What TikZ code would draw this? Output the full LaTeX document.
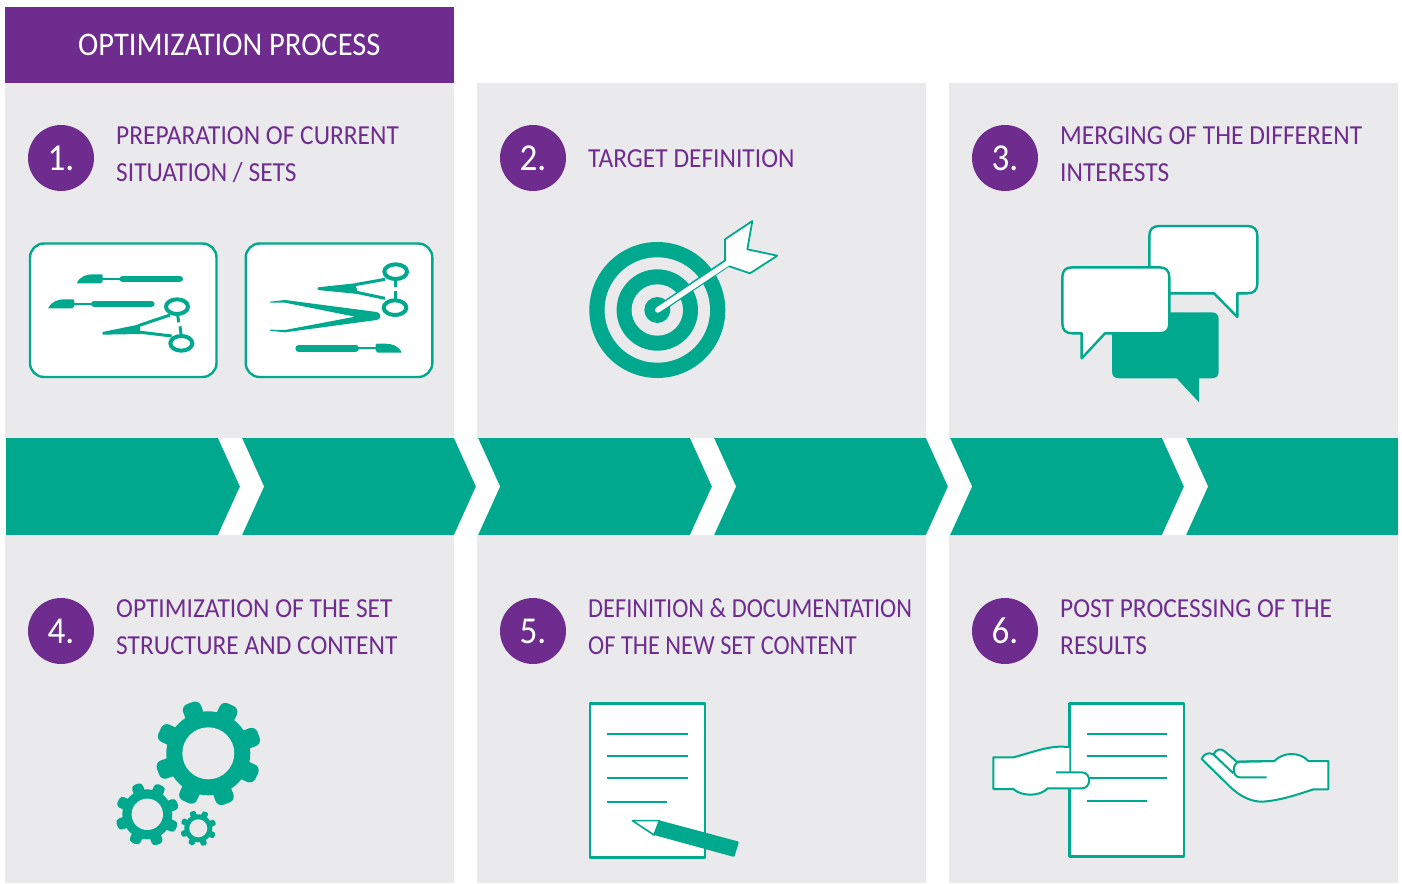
\documentclass[tikz,border=0pt]{standalone}
\usepackage{fontspec}
\setmainfont[FakeStretch=0.925,Ligatures=NoCommon]{Carlito}
\usetikzlibrary{calc}
\definecolor{teal1}{HTML}{00A88E}
\definecolor{purp}{HTML}{6F2C8F}
\definecolor{panel}{HTML}{EAEAEC}
\newcommand{\gearicon}[6]{%
 \begin{scope}[shift={(#1,#2)}]
  \fill[teal1] (0,0) circle (#3);
  \foreach \a in {20,65,...,335}{
   \begin{scope}[rotate=\a]
    \fill[teal1,rounded corners=#6*0.33pt] (#3*0.8,-#6*0.5) -- (#5,-#6*0.5) -- (#5,#6*0.5) -- (#3*0.8,#6*0.5) -- cycle;
   \end{scope}}
  \fill[panel] (0,0) circle (#4);
 \end{scope}}
\newcommand{\scalpelicon}{%
  \fill[teal1] (0,0) .. controls (3,-7) and (10,-9) .. (16,-9) -- (25,-9) -- (26,-8) -- (26,-2) -- (24,0) -- cycle;
  \draw[teal1,line width=2pt] (25,-4.5) -- (44,-4.5);
  \draw[teal1,line width=6.6pt,line cap=round] (46,-4.5) -- (103,-4.5);}
\tikzset{
 ttl/.style={anchor=base west,inner sep=0pt,text=purp,font=\fontsize{27.5}{30}\selectfont},
 numc/.style={circle,fill=purp,minimum size=66pt,inner sep=0pt,text=white,font=\fontsize{38}{40}\selectfont},
 docline/.style={draw=teal1,line width=1.8pt},
 iconline/.style={draw=teal1,line width=2.4pt,fill=white,line join=round},
 ringline/.style={teal1,line width=4pt},
 armline/.style={teal1,line width=3pt},
}
\begin{document}
\begin{tikzpicture}[x=1pt,y=-1pt]
\useasboundingbox (0,0) rectangle (1402,883);
\fill[white] (0,0) rectangle (1402,883);
% panels
\fill[panel] (5,83) rectangle (454,438);
\fill[panel] (477,83) rectangle (926,438);
\fill[panel] (949,83) rectangle (1398,438);
\fill[panel] (5,535) rectangle (454,883);
\fill[panel] (477,535) rectangle (926,883);
\fill[panel] (949,535) rectangle (1398,883);
% header
\node[fill=purp,minimum width=449pt,minimum height=76pt,inner sep=0pt,anchor=north west] (head) at (5,7) {};
\node[inner sep=0pt,text=white,anchor=base west,font=\fontsize{33}{36}\selectfont] (headt) at (78,56) {OPTIMIZATION PROCESS};
% band
\fill[teal1] (5.5,438.3) rectangle (1398,534.7);
\foreach \x in {218,454,690,926,1162}{
 \fill[white] (\x,438) -- (\x+24,438) -- (\x+46,486.5) -- (\x+24,535) -- (\x,535) -- (\x+22,486.5) -- cycle;}
% circles
\node[numc] (n1) at (61,158) {\raisebox{-1pt}{1.}};
\node[numc] (n2) at (533,158) {\raisebox{-1pt}{2.}};
\node[numc] (n3) at (1005,158) {\raisebox{-1pt}{3.}};
\node[numc] (n4) at (61,631) {\raisebox{-1pt}{4.}};
\node[numc] (n5) at (533,631) {\raisebox{-1pt}{5.}};
\node[numc] (n6) at (1005,631) {\raisebox{-1pt}{6.}};
% titles
\node[ttl] (t1a) at (116,144) {PREPARATION OF CURRENT};
\node[ttl] (t1b) at (116,181) {SITUATION / SETS};
\node[ttl] (t2a) at (588,167) {TARGET DEFINITION};
\node[ttl] (t3a) at (1060,144) {MERGING OF THE DIFFERENT};
\node[ttl] (t3b) at (1060,181) {INTERESTS};
\node[ttl] (t4a) at (116,617) {OPTIMIZATION OF THE SET};
\node[ttl] (t4b) at (116,654) {STRUCTURE AND CONTENT};
\node[ttl] (t5a) at (588,617) {\scalebox{0.958}[1]{DEFINITION \& DOCUMENTATION}};
\node[ttl] (t5b) at (588,654) {\scalebox{0.958}[1]{OF THE NEW SET CONTENT}};
\node[ttl] (t6a) at (1060,617) {POST PROCESSING OF THE};
\node[ttl] (t6b) at (1060,654) {RESULTS};
% instruments
\draw[iconline,rounded corners=14pt] (30,243.5) rectangle (216.5,377);
\draw[iconline,rounded corners=14pt] (245.7,243.5) rectangle (432.3,377);
\begin{scope}[shift={(76.7,283.3)}]\scalpelicon\end{scope}
\begin{scope}[shift={(48.3,308.3)}]\scalpelicon\end{scope}
\begin{scope}[shift={(401.7,352.7)},xscale=-1]\scalpelicon\end{scope}
\begin{scope}[shift={(20,230)},scale=1/3]
 % hemostat 1
 \fill[teal1,rounded corners=1pt] (247,306) -- (360,283) -- (360,312) -- (247,314) -- cycle;
 \draw[armline] (355,287) -- (450,255);
 \draw[armline] (355,306) -- (455,318);
 \draw[ringline] (471,230) ellipse (33 and 22);
 \draw[ringline] (484,340) ellipse (33 and 22);
 \draw[armline] (473,255) -- (476,277);
 \draw[armline] (480,289) -- (483,312);
 % hemostat 2
 \fill[teal1,rounded corners=1pt] (893,172) -- (1005,160) -- (1015,192) -- (893,180) -- cycle;
 \draw[armline] (1005,164) -- (1095,148);
 \draw[armline] (1005,186) -- (1095,205);
 \draw[ringline] (1127,125) ellipse (34 and 22);
 \draw[ringline] (1125,233) ellipse (34 and 22);
 \draw[armline] (1127,150) -- (1127,170);
 \draw[armline] (1127,183) -- (1127,207);
 % tweezers
 \fill[teal1,line join=round] (750,215) -- (795,210) -- (1070,246) .. controls (1085,250) and (1085,266) .. (1070,270) -- (795,307) -- (750,302) -- (750,299) -- (795,300) -- (1005,260) -- (795,218) -- (750,218) -- cycle;
\end{scope}
% target
\fill[teal1] (657.3,310) circle (68);
\fill[panel] (657.3,310) circle (52.7);
\fill[teal1] (657.3,310) circle (40.7);
\fill[panel] (657.3,310) circle (25.7);
\fill[teal1] (657.3,310) circle (13);
\begin{scope}[shift={(570,210)},scale=1/3]
 \draw[teal1,line width=8.2pt,line cap=round] (263,300) -- (470,160);
 \draw[iconline,line width=1.8pt,miter limit=10] (465,150) -- (465,88) -- (547,33) -- (532,118) -- (622,137) -- (540,190) -- (475,168) -- cycle;
 \draw[white,line width=5.4pt,line cap=round] (263,300) -- (480,155);
\end{scope}
% speech bubbles
\begin{scope}[shift={(1050,215)},scale=1/3]
 \draw[iconline] (298,63) .. controls (298,43) and (308,33) .. (328,33) -- (592,33) .. controls (612,33) and (622,43) .. (622,63) -- (622,205) .. controls (622,225) and (612,235) .. (592,235) -- (562,235) -- (562,306) -- (492,235) -- (298,235) -- cycle;
 \fill[teal1] (186,314) .. controls (186,299) and (193,292) .. (208,292) -- (484,292) .. controls (499,292) and (506,299) .. (506,314) -- (506,468) .. controls (506,483) and (499,490) .. (484,490) -- (447,490) -- (447,562) -- (380,490) -- (208,490) .. controls (193,490) and (186,483) .. (186,468) -- cycle;
 \draw[iconline] (37,187) .. controls (37,167) and (47,157) .. (67,157) -- (328,157) .. controls (348,157) and (358,167) .. (358,187) -- (358,325) .. controls (358,345) and (348,355) .. (328,355) -- (165,355) -- (95,430) -- (95,355) -- (67,355) .. controls (47,355) and (37,345) .. (37,325) -- cycle;
\end{scope}
% gears
\gearicon{208.3}{753.3}{42}{26}{53.5}{19}
\gearicon{147.3}{814.3}{25}{15.7}{32}{11.5}
\gearicon{198.3}{828.3}{14}{9}{18}{6.2}
% document 5
\begin{scope}[shift={(580,695)},scale=1/3]
 \draw[iconline] (30,25) rectangle (375,487);
 \draw[docline] (82,118) -- (323,118);
 \draw[docline] (82,184) -- (323,184);
 \draw[docline] (82,250) -- (323,250);
 \draw[docline] (82,320) -- (262,320);
 \draw[iconline,line width=1.6pt] (157,377) -- (238,377) -- (222,420) -- cycle;
 \fill[teal1,rounded corners=1pt] (238,376) -- (477,440) -- (463,486) -- (222,420) -- cycle;
\end{scope}
% document 6 with hands
\begin{scope}[shift={(985,695)},scale=1/3]
 \draw[iconline] (253,25) rectangle (597,485);
 \draw[docline] (305,118) -- (545,118);
 \draw[docline] (305,184) -- (545,184);
 \draw[docline] (305,248) -- (545,248);
 \draw[docline] (305,318) -- (485,318);
 \fill[white] (253,157) .. controls (200,148) and (150,170) .. (85,187) -- (25,187) -- (25,282) -- (85,282) .. controls (110,305) and (165,305) .. (188,280) -- (290,280) .. controls (320,280) and (320,232) .. (290,232) -- (253,232) -- cycle;
 \draw[teal1,line width=2pt,line join=round] (253,157) .. controls (200,148) and (150,170) .. (85,187) -- (25,187) -- (25,282) -- (85,282) .. controls (110,305) and (165,305) .. (188,280) -- (290,280) .. controls (320,280) and (320,232) .. (290,232) -- (213,232);
 % receiving hand
 \draw[iconline,line width=2pt] (1030,198) -- (970,198) .. controls (945,170) and (895,170) .. (868,198) -- (755,200) -- (720,170) .. controls (710,160) and (695,160) .. (685,178) .. controls (670,170) and (655,178) .. (650,192) -- (735,275) .. controls (765,305) and (800,320) .. (830,320) .. controls (880,318) and (940,298) .. (985,283) -- (1030,283) -- cycle;
 \draw[teal1,line width=2pt,line join=round] (685,178) -- (745,235);
 \draw[teal1,line width=2pt,line join=round] (868,198) -- (765,200) .. controls (740,202) and (740,247) .. (765,247) -- (845,247);
\end{scope}
\end{tikzpicture}
\end{document}
